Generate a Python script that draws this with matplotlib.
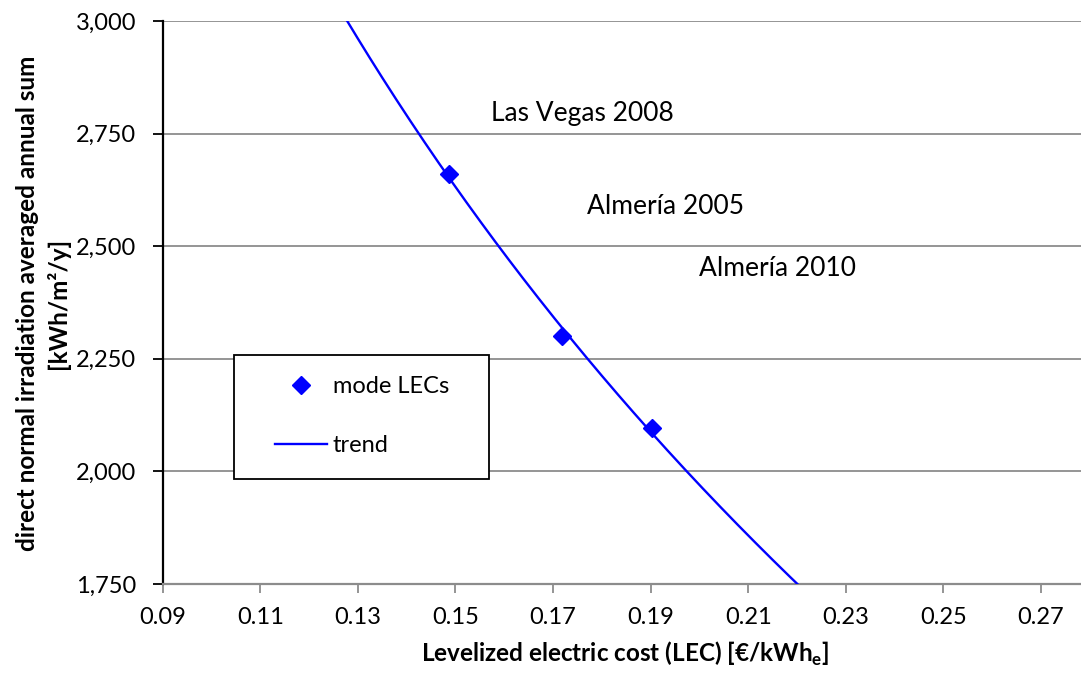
import numpy as np
import matplotlib
matplotlib.use("Agg")
import matplotlib.pyplot as plt
from matplotlib.ticker import FixedLocator, FuncFormatter
from matplotlib.patches import Rectangle

# Mode LEC results per site (x: LEC in EUR/kWh_e, y: DNI annual sum)
lec = [0.1487, 0.1718, 0.1903]
dni = [2660, 2300, 2096]
site_labels = ["Las Vegas 2008", "Almería 2005", "Almería 2010"]
site_label_pos = [(0.1573, 2795), (0.1770, 2588), (0.2000, 2450)]

x_ticks = [0.09, 0.11, 0.13, 0.15, 0.17, 0.19, 0.21, 0.23, 0.25, 0.27]
y_ticks = [1750, 2000, 2250, 2500, 2750, 3000]

FONT = "Lato"
FS_TICK = 17
FS_AXIS = 17.5
FS_LEG = 17
FS_NOTE = 19
plt.rcParams["font.family"] = [FONT, "DejaVu Sans"]
plt.rcParams["mathtext.fontset"] = "custom"
plt.rcParams["mathtext.rm"] = FONT
plt.rcParams["mathtext.bf"] = FONT + ":bold"

W, H = 1081, 673
fig = plt.figure(figsize=(W / 100, H / 100), dpi=100)
x0, x1 = 162.7, 1089.7
y_top, y_bot = 21, 584
ax = fig.add_axes([x0 / W, (H - y_bot) / H, (x1 - x0) / W, (y_bot - y_top) / H])

ax.set_xlim(0.09, 0.28)
ax.set_ylim(1750, 3000)

# logarithmic trend line fitted to the mode LECs
b, a = np.polyfit(np.log(lec), dni, 1)
xs = np.linspace(0.10, 0.28, 500)
trend_line, = ax.plot(xs, a + b * np.log(xs), color="#0000FF", lw=1.7,
                      zorder=3, label="trend")
pts, = ax.plot(lec, dni, linestyle="none", marker="D", markersize=9,
               color="#0000FF", zorder=4, label="mode LECs")

for txt, (tx, ty) in zip(site_labels, site_label_pos):
    ax.text(tx, ty, txt, fontsize=FS_NOTE, ha="left", va="center", color="black")

# axes styling
ax.xaxis.set_major_locator(FixedLocator(x_ticks))
ax.yaxis.set_major_locator(FixedLocator(y_ticks))
ax.xaxis.set_major_formatter(FuncFormatter(lambda v, p: f"{v:.2f}"))
ax.yaxis.set_major_formatter(FuncFormatter(lambda v, p: f"{v:,.0f}"))
ax.grid(axis="y", color="#8c8c8c", lw=1.3, zorder=0)
ax.set_axisbelow(True)
for s in ("top", "right"):
    ax.spines[s].set_visible(False)
ax.spines["left"].set_color("black")
ax.spines["left"].set_linewidth(1.6)
ax.spines["left"].set_zorder(2.5)
ax.spines["bottom"].set_color("#8c8c8c")
ax.spines["bottom"].set_linewidth(1.6)
ax.tick_params(axis="y", direction="out", length=7, width=1.3, color="black",
               pad=12, labelsize=FS_TICK)
ax.tick_params(axis="x", direction="out", length=6.5, width=1.3, color="#8c8c8c",
               pad=10, labelsize=FS_TICK)

fig.text(625 / W, 1 - 654 / H, r"Levelized electric cost (LEC) [€/kWh$_\mathbf{e}$]",
         fontsize=FS_AXIS, fontweight="bold", ha="center", va="center")
fig.text(43 / W, 1 - 303 / H,
         "direct normal irradiation averaged annual sum\n[kWh/m²/y]",
         fontsize=FS_AXIS, fontweight="bold", ha="center", va="center",
         rotation=90, linespacing=1.3, multialignment="center")

# legend box
bx0, by0, bx1, by1 = 234, 355, 489, 479
fig.patches.append(Rectangle((bx0 / W, 1 - by1 / H), (bx1 - bx0) / W, (by1 - by0) / H,
                             transform=fig.transFigure, facecolor="white",
                             edgecolor="black", lw=1.3, zorder=4))
leg = fig.legend(handles=[pts, trend_line], loc="upper left",
                 bbox_to_anchor=(275 / W, 1 - 376 / H), frameon=False,
                 fontsize=FS_LEG, handlelength=2.2, handletextpad=0.25,
                 labelspacing=1.62, borderpad=0, borderaxespad=0)
leg.set_zorder(6)

fig.savefig("out.png", dpi=100)
